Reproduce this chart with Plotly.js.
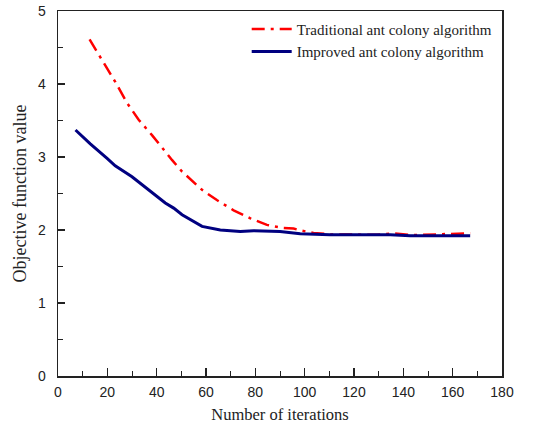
<!DOCTYPE html>
<html>
<head>
<meta charset="utf-8">
<script src="https://cdn.plot.ly/plotly-3.0.1.min.js"></script>
<style>html,body{margin:0;padding:0;background:#fff;}#chart{width:536px;height:428px;}</style>
</head>
<body>
<div id="chart"></div>
<script>
var tradX = [12.8, 17.8, 23.2, 28, 32.7, 38.1, 42.8, 46.2, 50.3, 55, 58.4, 64.4, 71.2, 78, 84.7, 90.8, 95.5, 98.9, 103.6, 110.3, 129.3, 136, 144.1, 167.1];
var tradY = [4.61, 4.33, 4.03, 3.74, 3.51, 3.30, 3.10, 2.96, 2.80, 2.66, 2.55, 2.41, 2.27, 2.16, 2.07, 2.03, 2.02, 1.99, 1.96, 1.94, 1.935, 1.955, 1.93, 1.955];
var impX = [7.1, 13.1, 19.9, 23.2, 30, 33.4, 36.7, 43.5, 46.9, 50.3, 58.4, 65.8, 73.9, 79.3, 90, 98.2, 110.3, 129.3, 134.7, 142.8, 167.1];
var impY = [3.37, 3.18, 2.98, 2.88, 2.73, 2.64, 2.55, 2.37, 2.30, 2.21, 2.05, 2.00, 1.98, 1.99, 1.98, 1.95, 1.935, 1.935, 1.935, 1.92, 1.92];
var seriesNames = ["Traditional ant colony algorithm", "Improved ant colony algorithm"];

var serif = "'Liberation Serif', 'Times New Roman', Times, serif";
var sans = "'Liberation Sans', Arial, sans-serif";

var traces = [
  {x: tradX, y: tradY, name: seriesNames[0], type: 'scatter', mode: 'lines',
   line: {color: '#ff0000', width: 2.5, dash: '13px,6px,3px,6px'}},
  {x: impX, y: impY, name: seriesNames[1], type: 'scatter', mode: 'lines',
   line: {color: '#000080', width: 3}}
];

var layout = {
  width: 536, height: 428,
  margin: {l: 58, r: 34, t: 11, b: 52},
  paper_bgcolor: '#fff', plot_bgcolor: '#fff',
  showlegend: true,
  legend: {x: 0.425, y: 0.995, xanchor: 'left', yanchor: 'top', bgcolor: 'rgba(0,0,0,0)',
           itemwidth: 40, font: {family: serif, size: 15, color: '#222'}},
  xaxis: {
    range: [0, 180], dtick: 20, tick0: 0, showgrid: false, zeroline: false,
    showline: true, linecolor: '#222', linewidth: 1.5, mirror: true,
    ticks: 'inside', ticklen: 8, tickwidth: 1.2, tickcolor: '#222',
    ticklabelstandoff: 3,
    minor: {dtick: 10, ticks: 'inside', ticklen: 5, tickwidth: 1, tickcolor: '#222', showgrid: false},
    tickfont: {family: sans, size: 14, color: '#222'},
    title: {text: 'Number of iterations', standoff: 9,
            font: {family: serif, size: 16.5, color: '#222'}}
  },
  yaxis: {
    range: [0, 5], dtick: 1, tick0: 0, showgrid: false, zeroline: false,
    showline: true, linecolor: '#222', linewidth: 1.5, mirror: true,
    ticks: 'inside', ticklen: 7, tickwidth: 1.2, tickcolor: '#222',
    ticklabelstandoff: 8,
    minor: {dtick: 0.5, ticks: 'inside', ticklen: 5, tickwidth: 1, tickcolor: '#222', showgrid: false},
    tickfont: {family: sans, size: 14, color: '#222'},
    title: {text: 'Objective function value', standoff: 6,
            font: {family: serif, size: 18, color: '#222'}}
  }
};

Plotly.newPlot('chart', traces, layout, {displayModeBar: false, staticPlot: true});
</script>
</body>
</html>
